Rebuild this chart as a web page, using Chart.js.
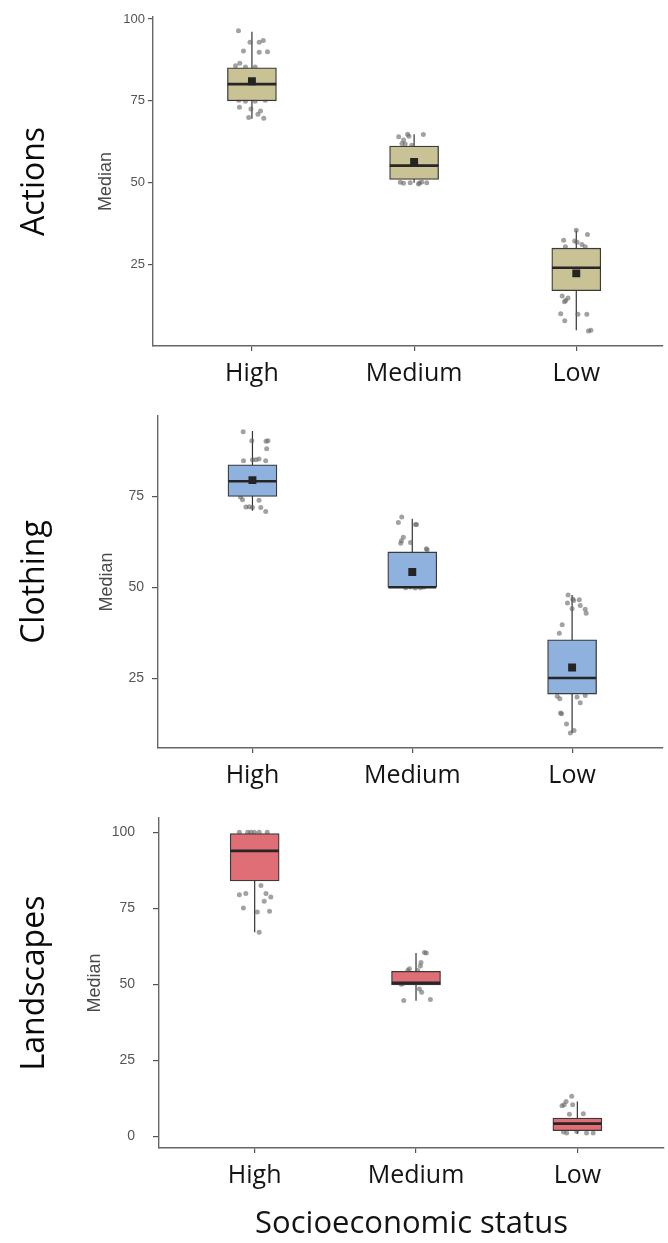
<!DOCTYPE html>
<html><head><meta charset="utf-8">
<script src="https://cdn.jsdelivr.net/npm/chart.js@4.4.1/dist/chart.umd.min.js"></script>
<style>
html,body{margin:0;padding:0;background:#fff;width:668px;height:1243px;overflow:hidden;}
canvas{position:absolute;left:0;}
</style></head><body>
<canvas id="c1" width="668" height="400" style="top:0px"></canvas>
<canvas id="c2" width="668" height="400" style="top:400px"></canvas>
<canvas id="c3" width="668" height="443" style="top:800px"></canvas>
<script>
// ---------------- DATA ----------------
const categories = ['High', 'Medium', 'Low'];
const panelNames = ['Actions', 'Clothing', 'Landscapes'];
const yAxisTitle = 'Median';
const xAxisTitle = 'Socioeconomic status';

const actionsTicks = [25, 50, 75, 100];
const clothingTicks = [25, 50, 75];
const landscapesTicks = [0, 25, 50, 75, 100];

// Actions box statistics (High, Medium, Low)
const actionsQ1 = [75.0, 51.0, 17.0];
const actionsMedian = [80.1, 55.2, 24.0];
const actionsQ3 = [85.1, 61.2, 30.0];
const actionsLow = [69.5, 50.0, 4.9];
const actionsHigh = [96.1, 64.8, 35.5];
const actionsMean = [81.0, 56.3, 22.3];
// Actions jittered observations: [horizontal jitter, value]
const actionsHighPoints = [[-0.083,96.4],[-0.012,92.9],[0.045,92.9],[0.07,93.4],[-0.052,90.2],[0.045,89.8],[0.096,90.0],[-0.075,86.5],[-0.101,85.7],[-0.04,85.3],[0.02,85.3],[-0.081,75.2],[-0.04,74.9],[0.02,74.9],[0.082,75.2],[-0.077,73.0],[-0.006,72.5],[0.053,71.9],[-0.02,69.9],[0.037,70.9],[0.073,69.7]];
const actionsMediumPoints = [[-0.095,64.0],[-0.04,64.8],[-0.032,64.2],[0.057,64.7],[-0.075,62.0],[-0.055,61.8],[-0.065,63.0],[-0.014,61.4],[-0.065,49.8],[-0.024,50.0],[0.033,49.9],[0.078,50.0],[-0.085,50.1],[0.027,49.6],[0.047,50.2]];
const actionsLowPoints = [[0.0,35.5],[0.069,34.2],[-0.078,32.4],[-0.01,32.2],[0.005,31.8],[0.035,31.1],[0.055,30.4],[-0.067,30.4],[-0.087,15.4],[-0.051,14.8],[-0.073,13.6],[-0.065,14.0],[-0.096,10.0],[0.01,9.8],[0.065,9.8],[-0.071,7.8],[0.075,4.7],[0.09,4.9]];

// Clothing
const clothingQ1 = [74.9, 50.0, 20.7];
const clothingMedian = [79.1, 50.0, 25.1];
const clothingQ3 = [83.6, 59.7, 35.6];
const clothingLow = [71.0, 50.0, 10.0];
const clothingHigh = [92.9, 68.8, 47.9];
const clothingMean = [79.4, 54.2, 28.0];
const clothingHighPoints = [[-0.058,92.7],[-0.004,90.2],[0.085,90.1],[0.097,90.2],[0.089,88.0],[-0.056,84.7],[0.0,85.0],[0.021,85.0],[0.041,85.2],[0.083,84.7],[-0.062,74.0],[-0.075,74.8],[0.041,73.9],[-0.041,72.0],[0.0,71.9],[0.052,71.9],[0.083,70.8],[-0.02,72.1]];
const clothingMediumPoints = [[-0.066,69.3],[-0.087,67.8],[0.02,67.2],[0.027,67.2],[-0.056,63.7],[-0.072,62.1],[-0.068,62.8],[-0.011,62.3],[0.088,60.6],[0.093,60.3],[-0.041,49.9],[0.051,49.9],[-0.011,50.1],[0.072,50.1],[0.019,49.8]];
const clothingLowPoints = [[-0.025,47.9],[0.004,46.8],[0.01,46.4],[0.045,46.6],[-0.029,45.7],[0.051,45.0],[0.082,44.0],[0.088,42.9],[0.0,44.1],[-0.062,39.7],[-0.08,37.4],[-0.093,20.1],[-0.077,19.4],[0.031,19.9],[0.082,20.3],[0.051,18.3],[-0.072,15.5],[-0.066,15.3],[-0.035,12.5],[-0.011,10.0],[0.012,10.7]];

// Landscapes (no mean marker drawn)
const landscapesQ1 = [84.0, 49.8, 1.9];
const landscapesMedian = [93.9, 50.5, 4.2];
const landscapesQ3 = [99.6, 54.3, 6.05];
const landscapesLow = [67.1, 44.6, 0.8];
const landscapesHigh = [99.6, 60.3, 11.5];
const landscapesHighPoints = [[-0.095,100],[-0.043,100],[-0.023,100],[-0.002,100],[0.028,100],[0.078,100],[0.039,82.5],[-0.095,79.5],[-0.055,79.9],[0.07,79.9],[0.1,78.7],[0.059,77.3],[-0.07,75.1],[0.016,73.8],[0.092,74.0],[0.028,67.1]];
const landscapesMediumPoints = [[0.052,60.5],[0.064,60.3],[0.031,57.2],[0.027,56.0],[-0.041,55.1],[-0.051,54.6],[0.01,54.6],[0.035,47.4],[0.021,48.5],[-0.076,44.7],[0.089,45.0],[-0.092,50.0],[-0.082,50.3]];
const landscapesLowPoints = [[-0.035,13.2],[-0.07,11.5],[-0.095,10.1],[-0.082,10.4],[-0.029,10.4],[0.037,7.5],[-0.049,7.3],[-0.066,1.1],[-0.004,1.6],[0.057,1.1],[0.098,1.1],[-0.086,1.5]];

// ---------------- CHART BUILDING ----------------
const BOX_HALF = 0.15;
const tickFont = "'Liberation Sans', Arial, sans-serif";
const bigFont = "'Open Sans', 'Noto Sans', sans-serif";

function segments(xs, lo, hi) {
  return categories.flatMap((c, i) => [
    {x: i + 1 + (xs ? -BOX_HALF : 0), y: lo[i]},
    {x: i + 1 + (xs ? BOX_HALF : 0), y: hi[i]},
    {x: i + 1.5, y: null}
  ]);
}

function makePanel(p) {
  const datasets = [
    { type: 'line', data: segments(false, p.low, p.high), showLine: true,
      borderColor: '#333', borderWidth: 1.2, pointRadius: 0, fill: false, spanGaps: false, order: 6 },
    { type: 'scatter', data: p.points.flatMap((grp, i) => grp.map(([dx, v]) => ({x: i + 1 + dx, y: v}))),
      pointRadius: 2.5, backgroundColor: 'rgba(100,100,100,0.6)', borderWidth: 0, order: 5 },
    { type: 'bar', data: categories.map((c, i) => ({x: i + 1, y: [p.q1[i], p.q3[i]]})),
      backgroundColor: p.fill, borderColor: '#3a3a3a', borderWidth: 1.3, borderSkipped: false,
      barThickness: 49, order: 4 },
    { type: 'line', data: segments(true, p.median, p.median), showLine: true,
      borderColor: '#262626', borderWidth: 2.6, pointRadius: 0, fill: false, spanGaps: false, order: 3 }
  ];
  if (p.mean) {
    datasets.push({ type: 'scatter', data: categories.map((c, i) => ({x: i + 1, y: p.mean[i]})),
      pointStyle: 'rect', pointRadius: 5.6, backgroundColor: '#242424', borderColor: '#242424', borderWidth: 0, order: 2 });
  }
  new Chart(document.getElementById(p.canvas), {
    type: 'scatter',
    data: { datasets },
    options: {
      responsive: false, animation: false, events: [],
      layout: { padding: { top: p.padTop, left: 0, right: 0, bottom: 0 } },
      plugins: { legend: { display: false }, tooltip: { enabled: false } },
      scales: {
        x: {
          type: 'linear', position: 'bottom', min: p.xMin, max: p.xMax, offset: false,
          afterBuildTicks: s => { s.ticks = categories.map((c, i) => ({value: i + 1})); },
          afterFit: s => { s.height = p.xHeight; s.paddingLeft = 0; s.paddingRight = 0; },
          ticks: { callback: (v, i) => categories[i], font: { family: bigFont, size: 25 }, color: '#141414', padding: 8, autoSkip: false, maxRotation: 0 },
          grid: { offset: false, drawOnChartArea: false, drawTicks: true, tickLength: 5, color: '#555', lineWidth: 1.2 },
          border: { display: true, color: '#666', width: 1.4 },
          title: p.xTitle ? { display: true, text: p.xTitle, font: { family: bigFont, size: 31 }, color: '#141414', padding: { top: 0, bottom: 0 } } : { display: false }
        },
        y: {
          type: 'linear', position: 'left', min: p.yMin, max: p.yMax, weight: 0,
          afterBuildTicks: s => { s.ticks = p.yTicks.map(v => ({value: v})); },
          afterFit: s => { s.width = p.innerW; s.paddingTop = 0; s.paddingBottom = 0; },
          ticks: { font: { family: tickFont, size: p.yTickSize }, color: '#555', padding: p.yTickPad },
          grid: { offset: false, drawOnChartArea: false, drawTicks: true, tickLength: p.tickLen, color: '#555', lineWidth: 1.2 },
          border: { display: true, color: '#666', width: 1.4 },
          title: { display: true, text: yAxisTitle, font: { family: tickFont, size: 18 }, color: '#4a4a4a', padding: { top: p.medianPad, bottom: 0 } }
        },
        panel: {
          type: 'linear', position: 'left', min: 0, max: 1, weight: 10,
          afterFit: s => { s.width = 70; s.paddingTop = 0; s.paddingBottom = 0; },
          ticks: { display: false }, grid: { display: false }, border: { display: false },
          title: { display: true, text: p.name, font: { family: bigFont, size: 32 }, color: '#0a0a0a', padding: { top: 15.3, bottom: 0 } }
        }
      }
    }
  });
}

makePanel({ canvas: 'c1', name: panelNames[0], fill: '#c9c294',
  q1: actionsQ1, median: actionsMedian, q3: actionsQ3, low: actionsLow, high: actionsHigh, mean: actionsMean,
  points: [actionsHighPoints, actionsMediumPoints, actionsLowPoints], yTicks: actionsTicks,
  xMin: 0.39, xMax: 3.531, yMin: 0.12, yMax: 100.6, padTop: 17, xHeight: 54,
  innerW: 83, medianPad: 24.9, tickLen: 5, yTickPad: 3, yTickSize: 13 });

makePanel({ canvas: 'c2', name: panelNames[1], fill: '#8fb1de',
  q1: clothingQ1, median: clothingMedian, q3: clothingQ3, low: clothingLow, high: clothingHigh, mean: clothingMean,
  points: [clothingHighPoints, clothingMediumPoints, clothingLowPoints], yTicks: clothingTicks,
  xMin: 0.409, xMax: 3.565, yMin: 5.9, yMax: 97.0, padTop: 16, xHeight: 52,
  innerW: 88, medianPad: 26.2, tickLen: 6, yTickPad: 8, yTickSize: 14 });

makePanel({ canvas: 'c3', name: panelNames[2], fill: '#e06e76',
  q1: landscapesQ1, median: landscapesMedian, q3: landscapesQ3, low: landscapesLow, high: landscapesHigh, mean: null,
  points: [landscapesHighPoints, landscapesMediumPoints, landscapesLowPoints], yTicks: landscapesTicks,
  xMin: 0.407, xMax: 3.537, yMin: -3.8, yMax: 104.7, padTop: 18, xHeight: 95,
  innerW: 89, medianPad: 14.2, tickLen: 6, yTickPad: 18, yTickSize: 14, xTitle: xAxisTitle });
</script>
</body></html>
